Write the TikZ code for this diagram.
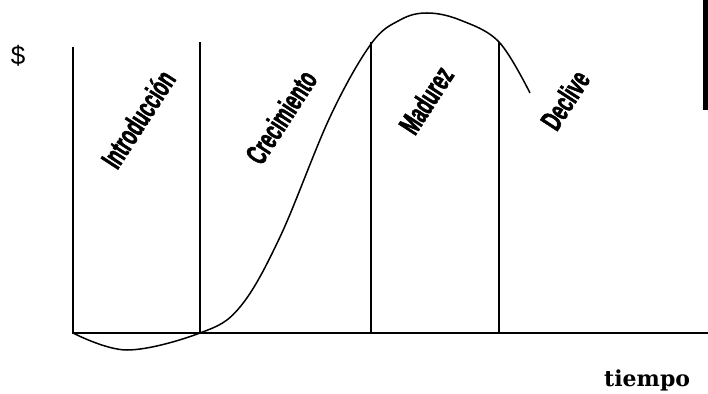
\documentclass[tikz,border=0pt]{standalone}
\usepackage{fontspec}
\setmainfont{Liberation Sans}
\newfontfamily\stagefont{Liberation Sans}[FakeStretch=0.6, FakeBold=1.6]
\newfontfamily\timefont{DejaVu Serif}
\begin{document}
\begin{tikzpicture}[
    x=1pt, y=1pt,
    axis/.style={line width=2.6pt},
    divider/.style={line width=1.6pt},
    lifecurve/.style={line width=1.5pt},
    stage/.style={font=\stagefont\bfseries\fontsize{30}{30}\selectfont, rotate=57, inner sep=0pt}
]
\useasboundingbox (0,0) rectangle (708,393);

% Axes
\coordinate (origin) at (73,60);
\coordinate (ytop)   at (73,346);
\coordinate (xend)   at (708,60);
\draw[axis] (ytop) -- (origin) -- (xend);

% Stage dividers
\coordinate (intro)  at (200,60);
\coordinate (grow)   at (371,351);
\coordinate (mature) at (499,351);
\draw[divider] (intro) -- (200,351);
\draw[divider] (grow) -- (371,60);
\draw[divider] (mature) -- (499,60);

% Edge bar
\coordinate (bartop) at (705,393);
\coordinate (barbot) at (705,283);
\draw[line width=5pt] (bartop) -- (barbot);

% Life cycle curve
\draw[lifecurve] plot[smooth, tension=0.6] coordinates {
    (73,60) (127,43) (200,60) (240,86) (280,156) (330,276) (371,349)
    (400,373) (427,380) (460,373) (499,351) (530,300)};

% Stage labels
\node[stage] (lblintro)  at (138,274) {Introducción};
\node[stage] (lblgrow)   at (281,276) {Crecimiento};
\node[stage] (lblmature) at (426,293) {Madurez};
\node[stage] (lbldecl)   at (565,293) {Declive};

% Axis labels
\node[font=\fontsize{26}{26}\selectfont] (money) at (18,337) {\$};
\node[font=\timefont\bfseries\fontsize{22}{22}\selectfont, anchor=base west, inner sep=0pt] (time) at (604,7) {tiempo};

\end{tikzpicture}
\end{document}
